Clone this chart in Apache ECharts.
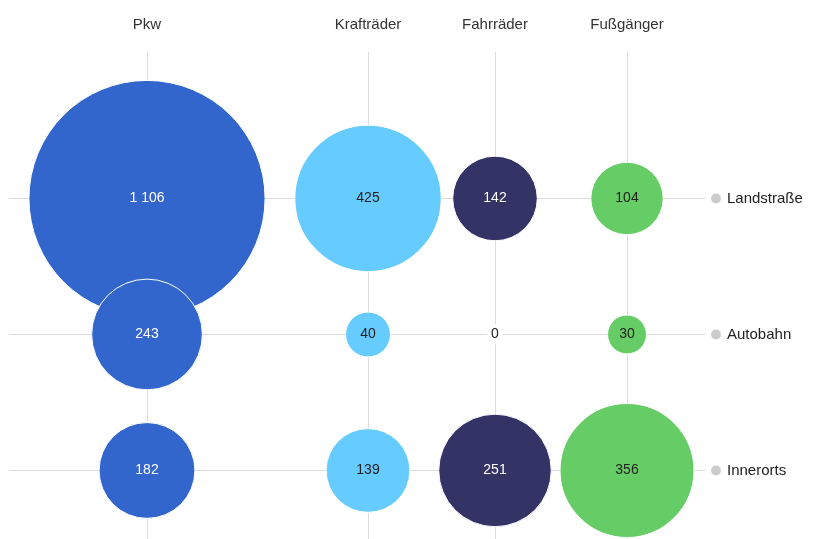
<!DOCTYPE html>
<html>
<head>
<meta charset="utf-8">
<script src="https://cdn.jsdelivr.net/npm/echarts@6/dist/echarts.min.js"></script>
<style>
html,body{margin:0;padding:0;background:#fff;}
#chart{width:817px;height:539px;}
</style>
</head>
<body>
<div id="chart"></div>
<script>
// Columns (vehicle types) and their horizontal data positions
const columns = ['Pkw', 'Krafträder', 'Fahrräder', 'Fußgänger'];
const columnX = [147, 368, 495, 627];
// Rows (road types) and their vertical data positions
const rows = ['Landstraße', 'Autobahn', 'Innerorts'];
const rowY = [2, 1, 0];
// Values per column, in row order (Landstraße, Autobahn, Innerorts)
const pkw = [1106, 243, 182];
const kraftraeder = [425, 40, 139];
const fahrraeder = [142, 0, 251];
const fussgaenger = [104, 30, 356];

const seriesValues = [pkw, kraftraeder, fahrraeder, fussgaenger];
const colors = ['#3366cc', '#66ccff', '#333366', '#66cc66'];
const labelColors = ['#ffffff', '#222222', '#ffffff', '#222222'];
const FONT = '"Liberation Sans", Arial, Helvetica, sans-serif';

function fmt(v) {
  return String(v).replace(/\B(?=(\d{3})+(?!\d))/g, ' ');
}

const series = [];
// gridlines
series.push({
  type: 'scatter',
  data: [],
  z: 1,
  silent: true,
  markLine: {
    z: 1,
    silent: true,
    animation: false,
    symbol: ['none', 'none'],
    label: { show: false },
    emphasis: { disabled: true },
    lineStyle: { color: '#dcdcdc', width: 1, type: 'solid' },
    data: columnX.map(x => ({ xAxis: x })).concat(rowY.map(y => ({ yAxis: y })))
  }
});

seriesValues.forEach((vals, ci) => {
  series.push({
    type: 'scatter',
    name: columns[ci],
    z: 3,
    symbolSize: function (d) { return 7.1 * Math.sqrt(d[2]); },
    itemStyle: { color: colors[ci], borderColor: '#ffffff', borderWidth: 1, opacity: 1 },
    emphasis: { disabled: true },
    label: {
      show: true,
      position: 'inside',
      fontFamily: FONT,
      fontSize: 14,
      color: labelColors[ci],
      formatter: p => fmt(p.value[2])
    },
    data: vals.map((v, ri) => {
      const item = { value: [columnX[ci], rowY[ri], v] };
      if (v === 0) {
        item.label = { color: '#222222', backgroundColor: '#ffffff', padding: [3, 4] };
      }
      return item;
    })
  });
});

const chart = echarts.init(document.getElementById('chart'), null, { renderer: 'canvas' });
chart.setOption({
  animation: false,
  backgroundColor: '#ffffff',
  grid: { left: 9, right: 112, top: 52, bottom: 0, containLabel: false },
  xAxis: {
    type: 'value',
    position: 'top',
    min: 9,
    max: 705,
    axisLine: { show: false },
    axisTick: { show: false },
    splitLine: { show: false },
    axisLabel: {
      customValues: columnX,
      formatter: v => columns[columnX.indexOf(v)] || '',
      fontFamily: FONT,
      fontSize: 15,
      color: '#333333',
      margin: 20
    }
  },
  yAxis: {
    type: 'value',
    position: 'right',
    min: -0.504,
    max: 3.077,
    axisLine: { show: false },
    axisTick: { show: false },
    splitLine: { show: false },
    axisLabel: {
      customValues: rowY,
      formatter: v => '{dot|}{txt|' + (rows[rowY.indexOf(v)] || '') + '}',
      margin: 6,
      rich: {
        dot: { width: 10, height: 10, borderRadius: 5, backgroundColor: '#cccccc' },
        txt: { fontFamily: FONT, fontSize: 15, color: '#222222', padding: [0, 0, 0, 6] }
      }
    }
  },
  series: series
});
</script>
</body>
</html>
